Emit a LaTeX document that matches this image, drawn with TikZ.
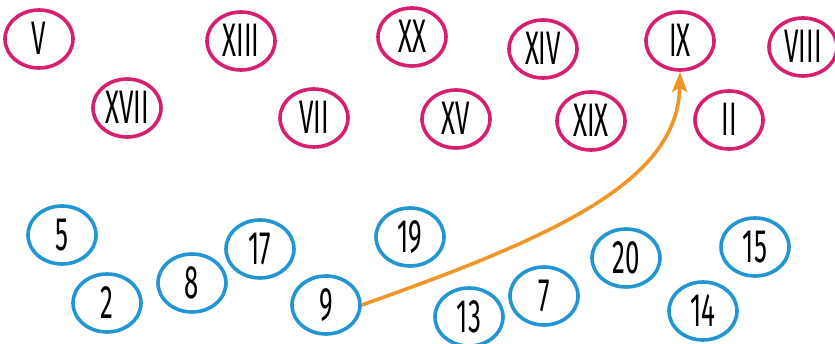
\documentclass[tikz,border=0pt]{standalone}
\usepackage{fontspec}
\setmainfont{Fira Sans}[FakeStretch=0.55]
\usetikzlibrary{shapes.geometric,arrows.meta}
\definecolor{romanpink}{RGB}{214,31,112}
\definecolor{arabblue}{RGB}{33,150,210}
\definecolor{linkorange}{RGB}{240,150,40}
\begin{document}
\begin{tikzpicture}[x=1pt, y=-1pt,
  ring/.style={ellipse, draw, line width=3.6pt, minimum width=68pt, minimum height=58pt,
    inner sep=0pt, text height=32pt, text depth=0pt, font=\fontsize{47}{47}\selectfont},
  roman/.style={ring, draw=romanpink},
  arab/.style={ring, draw=arabblue},
  pointer/.style={-{Stealth[length=20pt, width=15pt, inset=4pt]}, draw=linkorange, line width=3.6pt}]
\useasboundingbox (0,0) rectangle (835,344);
% roman numerals
\node[roman] (rV) at (39,39) {V};
\node[roman] (rXIII) at (241,41) {XIII};
\node[roman] (rXX) at (412,37) {XX};
\node[roman] (rXIV) at (543,49) {XIV};
\node[roman] (rIX) at (680,41) {IX};
\node[roman] (rVIII) at (803,47) {VIII};
\node[roman] (rXVII) at (127,108) {XVII};
\node[roman] (rVII) at (314,118) {VII};
\node[roman] (rXV) at (456,119) {XV};
\node[roman] (rXIX) at (591,121) {XIX};
\node[roman] (rII) at (729,120) {II};
% arabic numbers
\node[arab] (a5) at (62,235) {5};
\node[arab] (a2) at (107,303) {2};
\node[arab] (a8) at (192,283) {8};
\node[arab] (a17) at (260,249) {17};
\node[arab] (a9) at (326,305) {9};
\node[arab] (a19) at (410,237) {19};
\node[arab] (a13) at (469,317) {13};
\node[arab] (a7) at (544,296) {7};
\node[arab] (a20) at (626,258) {20};
\node[arab] (a14) at (703,311) {14};
\node[arab] (a15) at (755,247) {15};
% match
\draw[pointer] (a9.east) .. controls (560,235) and (678,180) .. (rIX.south);
\end{tikzpicture}
\end{document}
